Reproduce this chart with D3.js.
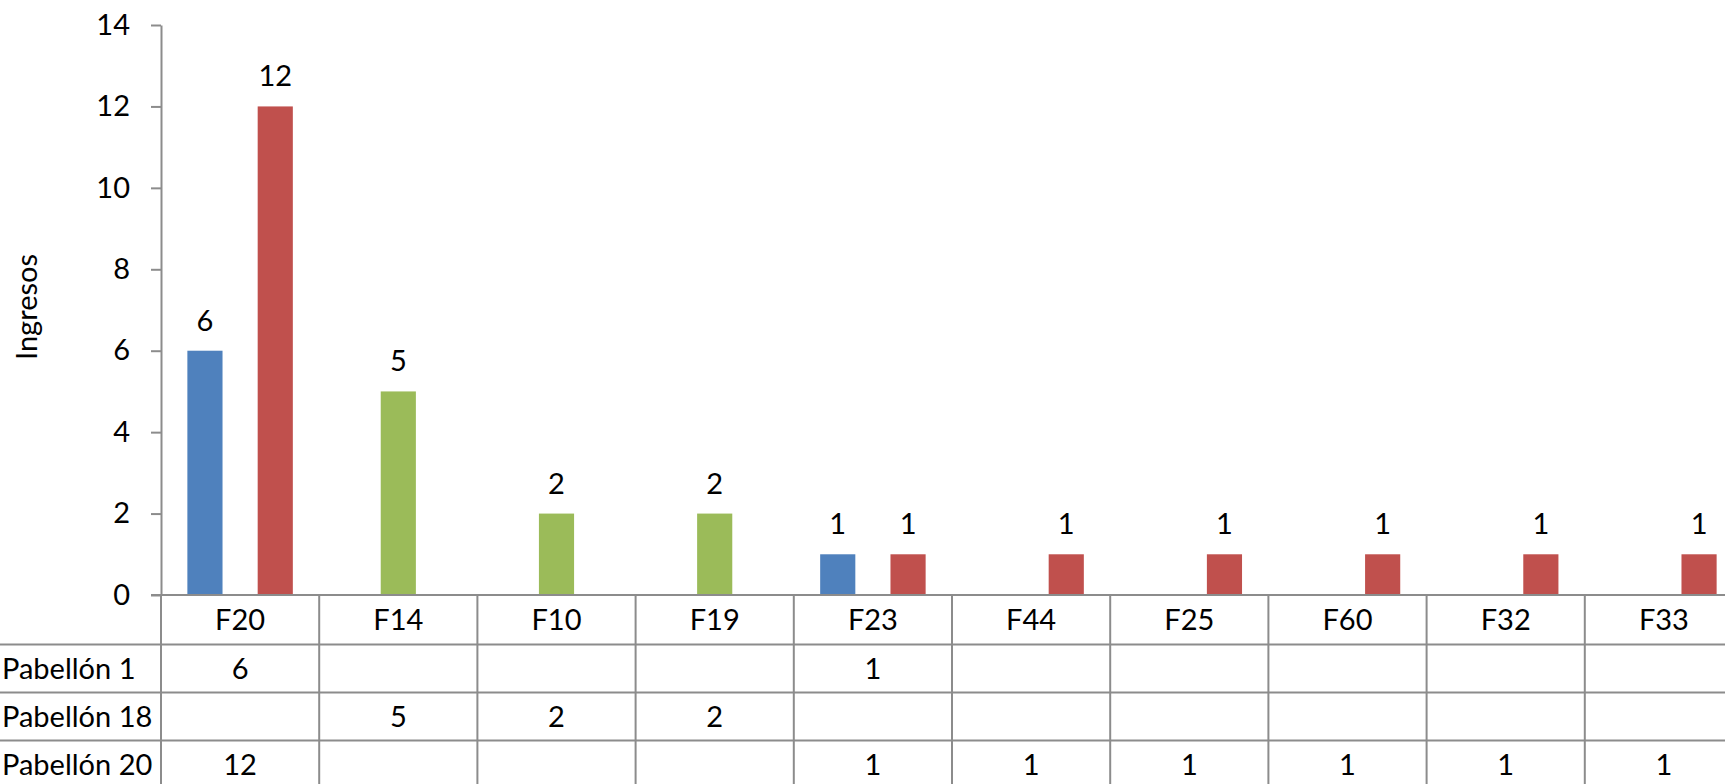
<!DOCTYPE html>
<html>
<head>
<meta charset="utf-8">
<script src="https://cdn.jsdelivr.net/npm/d3@7"></script>
<style>
  body { margin: 0; background: #fff; }
  svg { display: block; font-family: Lato, "Open Sans", sans-serif; }
</style>
</head>
<body>
<svg></svg>
<script>
var categories = ['F20', 'F14', 'F10', 'F19', 'F23', 'F44', 'F25', 'F60', 'F32', 'F33'];
var seriesNames = ['Pabellón 1', 'Pabellón 18', 'Pabellón 20'];
var pab1 = [6, null, null, null, 1, null, null, null, null, null];
var pab18 = [null, 5, 2, 2, null, null, null, null, null, null];
var pab20 = [12, null, null, null, 1, 1, 1, 1, 1, 1];
var seriesColors = ['#4f81bd', '#9bbb59', '#c0504d'];
var yTicks = [0, 2, 4, 6, 8, 10, 12, 14];

var series = [pab1, pab18, pab20];

/* svg setting */
var svgWidth = 1725;
var svgHeight = 784;
var plot = {left: 161, right: 1743, top: 25, bottom: 595};
var headerH = 49.5;
var rowH = 48;
var fontSize = 29;
var gridColor = '#8c8c8c';
var scale = {};

var svg = d3.select('svg')
    .attr('width', svgWidth)
    .attr('height', svgHeight);

setScale();
drawBars();
drawAxis();
drawTable();

function setScale(){
  scale.x = d3.scaleBand()
      .domain(categories)
      .range([plot.left, plot.right])
      .paddingInner(0)
      .paddingOuter(0);

  // 3 bars side by side, gap width 150% of a bar
  scale.s = d3.scaleBand()
      .domain(d3.range(series.length))
      .range([0, scale.x.step()])
      .paddingInner(0)
      .paddingOuter(0.75);

  scale.y = d3.scaleLinear()
      .domain([0, 14])
      .range([plot.bottom, plot.top]);
}

function barData(){
  var out = [];
  series.forEach(function(vals, si){
    vals.forEach(function(v, ci){
      if(v !== null){
        out.push({s: si, c: categories[ci], v: v});
      }
    });
  });
  return out;
}

function drawBars(){
  var data = barData();
  var g = svg.append('g').attr('class', 'bars');

  g.selectAll('rect')
      .data(data)
      .enter()
      .append('rect')
      .attr('x', function(d){ return scale.x(d.c) + scale.s(d.s); })
      .attr('y', function(d){ return scale.y(d.v); })
      .attr('width', scale.s.bandwidth())
      .attr('height', function(d){ return scale.y(0) - scale.y(d.v); })
      .attr('fill', function(d){ return seriesColors[d.s]; });

  // value labels above each bar
  g.selectAll('text')
      .data(data)
      .enter()
      .append('text')
      .attr('x', function(d){ return scale.x(d.c) + scale.s(d.s) + scale.s.bandwidth() / 2; })
      .attr('y', function(d){ return scale.y(d.v) - 20; })
      .attr('text-anchor', 'middle')
      .attr('font-size', fontSize)
      .attr('fill', '#000')
      .text(function(d){ return d.v; });
}

function drawAxis(){
  var axis = svg.append('g')
      .attr('class', 'y_axis')
      .attr('transform', translate(plot.left, 0))
      .call(d3.axisLeft(scale.y).tickValues(yTicks).tickSize(10).tickPadding(21).tickSizeOuter(0));

  axis.select('.domain').attr('stroke', gridColor).attr('stroke-width', 2);
  axis.selectAll('.tick line').attr('stroke', gridColor).attr('stroke-width', 2);
  axis.selectAll('.tick text')
      .attr('font-size', fontSize)
      .attr('font-family', 'Lato, "Open Sans", sans-serif')
      .attr('fill', '#000');

  // y axis title
  svg.append('text')
      .attr('transform', translate(37, 307) + ' rotate(-90)')
      .attr('text-anchor', 'middle')
      .attr('font-size', fontSize)
      .text('Ingresos');
}

function drawTable(){
  var t = svg.append('g').attr('class', 'data_table');
  var step = scale.x.step();
  var rowTops = seriesNames.map(function(n, i){ return plot.bottom + headerH + i * rowH; });
  var bounds = categories.map(function(c){ return scale.x(c); }).concat([plot.right]);

  // category axis line (top of table)
  t.append('line')
      .attr('x1', plot.left - 10).attr('x2', plot.right)
      .attr('y1', plot.bottom).attr('y2', plot.bottom)
      .attr('stroke', gridColor).attr('stroke-width', 2);

  // horizontal row lines
  t.selectAll('line.row')
      .data(rowTops)
      .enter()
      .append('line')
      .attr('class', 'row')
      .attr('x1', 0).attr('x2', plot.right)
      .attr('y1', function(d){ return d; }).attr('y2', function(d){ return d; })
      .attr('stroke', gridColor).attr('stroke-width', 2);

  // vertical column lines
  t.selectAll('line.col')
      .data(bounds)
      .enter()
      .append('line')
      .attr('class', 'col')
      .attr('x1', function(d){ return d; }).attr('x2', function(d){ return d; })
      .attr('y1', plot.bottom).attr('y2', svgHeight + 10)
      .attr('stroke', gridColor).attr('stroke-width', 2);

  // category labels
  t.selectAll('text.cat')
      .data(categories)
      .enter()
      .append('text')
      .attr('class', 'cat')
      .attr('x', function(d){ return scale.x(d) + step / 2; })
      .attr('y', plot.bottom + headerH / 2)
      .attr('dy', '0.35em')
      .attr('text-anchor', 'middle')
      .attr('font-size', fontSize)
      .text(function(d){ return d; });

  // series rows
  seriesNames.forEach(function(name, si){
    var cy = rowTops[si] + rowH / 2;
    t.append('text')
        .attr('x', 2)
        .attr('y', cy)
        .attr('dy', '0.35em')
        .attr('font-size', fontSize)
        .text(name);

    t.selectAll('text.v' + si)
        .data(series[si])
        .enter()
        .append('text')
        .attr('class', 'v' + si)
        .attr('x', function(d, i){ return scale.x(categories[i]) + step / 2; })
        .attr('y', cy)
        .attr('dy', '0.35em')
        .attr('text-anchor', 'middle')
        .attr('font-size', fontSize)
        .text(function(d){ return d === null ? '' : d; });
  });
}

function translate(x, y) {
  return 'translate(' + x + ',' + y + ')';
}
</script>
</body>
</html>
